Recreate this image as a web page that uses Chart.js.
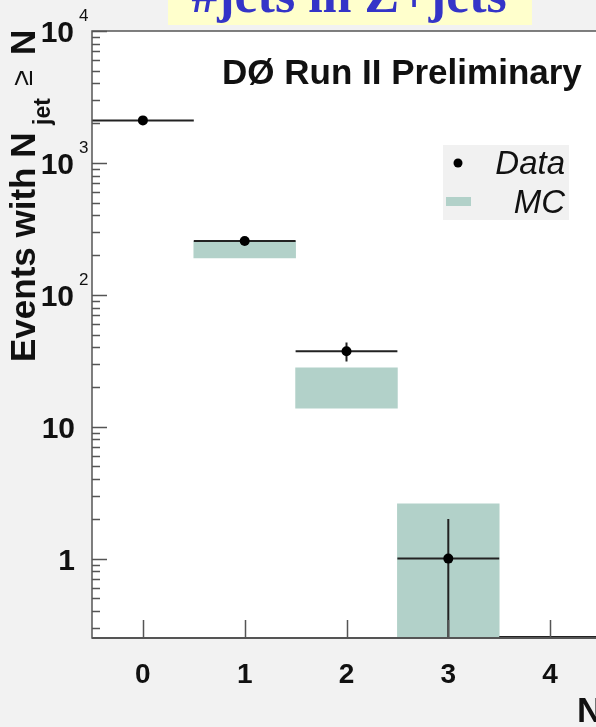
<!doctype html>
<html lang="en">

<head>
    <meta charset="utf-8">
    <meta name="viewport" content="width=device-width, initial-scale=1">
    <script src="https://cdn.jsdelivr.net/npm/chart.js"></script>
    <style>
        html, body {
            margin: 0;
            padding: 0;
            width: 596px;
            height: 727px;
            overflow: hidden;
            background: #f2f2f2;
        }
        #wrap {
            position: relative;
            width: 660px;
            height: 727px;
        }
    </style>
</head>

<body>
    <div id="wrap">
        <canvas id="myChart" width="660" height="727"></canvas>
    </div>
    <script>
        // jet multiplicity bins
        const bins = ['0', '1', '2', '3', '4'];
        // events with Njet >= N (data) and its stat error
        const dataCounts = [2100, 256, 37.3, 1, 0];
        const dataErrors = [46, 16, 6.1, 1, 0];
        // MC band, low and high edge per bin
        const mcLow = [null, 190, 13.8, 0.2, null];
        const mcHigh = [null, 254, 28, 2.6, null];
        // y axis decades and their exponent labels
        const yDecades = [1, 10, 100, 1000, 10000];
        const yExponents = ['', '', '2', '3', '4'];
        const yMin = 0.25;
        const yMax = 10000;

        const font = '"Liberation Sans", Arial, sans-serif';
        const axisColor = '#555';

        const rootStyle = {
            id: 'rootStyle',
            beforeDraw(chart) {
                const ctx = chart.ctx;
                const a = chart.chartArea;
                ctx.save();
                ctx.fillStyle = '#f2f2f2';
                ctx.fillRect(0, 0, chart.width, chart.height);

                // header box
                ctx.fillStyle = '#ffffcc';
                ctx.fillRect(168, 0, 364, 25);
                ctx.fillStyle = '#3434c8';
                ctx.font = 'bold 52px "Liberation Serif", "Times New Roman", serif';
                ctx.textAlign = 'center';
                ctx.textBaseline = 'alphabetic';
                ctx.fillText('#jets in Z+jets', 349, 12);

                ctx.fillStyle = '#ffffff';
                ctx.fillRect(a.left, a.top, a.right - a.left, a.bottom - a.top);
                ctx.restore();
            },
            beforeDatasetDraw(chart, args) {
                if (args.index !== 1) return;
                // error bars under the data markers
                const ctx = chart.ctx;
                const x = chart.scales.x;
                const y = chart.scales.y;
                const half = (x.getPixelForValue(1) - x.getPixelForValue(0)) / 2;
                const ypix = v => v <= yMin ? y.bottom - 1 : Math.min(y.bottom - 1, y.getPixelForValue(v));
                ctx.save();
                ctx.strokeStyle = '#222';
                ctx.lineWidth = 2;
                dataCounts.forEach((v, i) => {
                    const cx = x.getPixelForValue(i);
                    const cy = ypix(v);
                    ctx.beginPath();
                    ctx.moveTo(cx - half, cy);
                    ctx.lineTo(cx + half, cy);
                    if (v > 0) {
                        ctx.moveTo(cx, ypix(v + dataErrors[i]));
                        ctx.lineTo(cx, ypix(v - dataErrors[i]));
                    }
                    ctx.stroke();
                });
                ctx.restore();
            },
            afterDraw(chart) {
                const ctx = chart.ctx;
                const a = chart.chartArea;
                const x = chart.scales.x;
                const y = chart.scales.y;
                ctx.save();

                // frame
                ctx.strokeStyle = axisColor;
                ctx.lineWidth = 1.5;
                ctx.strokeRect(a.left, a.top, a.right - a.left, a.bottom - a.top);
                ctx.lineWidth = 2;
                ctx.beginPath();
                ctx.moveTo(a.left, a.bottom);
                ctx.lineTo(a.right, a.bottom);
                ctx.stroke();

                // y ticks, major and minor
                ctx.lineWidth = 1.5;
                ctx.beginPath();
                for (let e = -1; e <= 4; e++) {
                    for (let k = 1; k <= 9; k++) {
                        const v = k * Math.pow(10, e);
                        if (v < yMin || v > yMax) continue;
                        const py = Math.round(y.getPixelForValue(v)) + 0.5;
                        const len = k === 1 ? 15 : 8;
                        ctx.moveTo(a.left, py);
                        ctx.lineTo(a.left + len, py);
                    }
                }
                // x ticks
                bins.forEach((b, i) => {
                    const px = Math.round(x.getPixelForValue(i)) + 0.5;
                    ctx.moveTo(px, a.bottom);
                    ctx.lineTo(px, a.bottom - 18);
                });
                ctx.stroke();

                // y labels
                ctx.fillStyle = '#111';
                ctx.textBaseline = 'alphabetic';
                yDecades.forEach((v, i) => {
                    const py = y.getPixelForValue(v);
                    const label = v === 1 ? '1' : '10';
                    ctx.font = 'bold 30px ' + font;
                    ctx.textAlign = 'right';
                    ctx.fillText(label, yExponents[i] ? 74 : 75, py + 11);
                    if (yExponents[i]) {
                        ctx.font = '17px ' + font;
                        ctx.textAlign = 'left';
                        ctx.fillText(yExponents[i], 79, py - 10);
                    }
                });

                // x labels
                ctx.font = 'bold 28px ' + font;
                ctx.textAlign = 'center';
                bins.forEach((b, i) => {
                    ctx.fillText(b, x.getPixelForValue(i), 683);
                });

                // x title
                ctx.textAlign = 'left';
                ctx.font = 'bold 35px ' + font;
                ctx.fillText('N', 577, 722);
                const nw = ctx.measureText('N').width;
                ctx.font = 'bold 23px ' + font;
                ctx.fillText('jet', 577 + nw + 2, 730);

                // y title, rotated
                ctx.save();
                ctx.translate(35, 362);
                ctx.rotate(-Math.PI / 2);
                ctx.font = 'bold 35px ' + font;
                ctx.fillText('Events with N', 0, 0);
                ctx.font = 'bold 23px ' + font;
                ctx.fillText('jet', 237, 15);
                ctx.font = '29px ' + font;
                ctx.fillText('\u2265', 276, -3);
                ctx.font = 'bold 35px ' + font;
                ctx.fillText('N', 307, 0);
                ctx.restore();

                // experiment label
                ctx.font = 'bold 35px ' + font;
                ctx.textAlign = 'left';
                ctx.fillText('D\u00d8 Run II Preliminary', 222, 84);

                // legend
                ctx.fillStyle = '#f1f1f1';
                ctx.fillRect(443, 145, 126, 75);
                ctx.fillStyle = '#000';
                ctx.beginPath();
                ctx.arc(458, 163, 4.5, 0, Math.PI * 2);
                ctx.fill();
                ctx.fillStyle = '#b2d1c9';
                ctx.fillRect(446, 197, 25, 9);
                ctx.fillStyle = '#111';
                ctx.font = 'italic 33px ' + font;
                ctx.textAlign = 'right';
                ctx.fillText('Data', 565, 174);
                ctx.fillText('MC', 565, 213);

                ctx.restore();
            }
        };

        const config = {
            type: 'bar',
            data: {
                labels: bins,
                datasets: [{
                    label: 'MC',
                    data: mcLow.map((lo, i) => lo === null ? null : [lo, mcHigh[i]]),
                    backgroundColor: '#b2d1c9',
                    borderWidth: 0,
                    barPercentage: 1,
                    categoryPercentage: 1,
                    order: 2
                },
                {
                    type: 'line',
                    label: 'Data',
                    data: dataCounts.map(v => v > 0 ? v : null),
                    showLine: false,
                    pointRadius: 5,
                    pointBackgroundColor: '#000',
                    pointBorderWidth: 0,
                    order: 1
                }]
            },
            options: {
                responsive: false,
                animation: false,
                devicePixelRatio: 1,
                layout: {
                    padding: { left: 92, top: 31, right: 59, bottom: 89 }
                },
                plugins: {
                    legend: { display: false },
                    tooltip: { enabled: false }
                },
                scales: {
                    x: {
                        type: 'category',
                        offset: true,
                        display: false
                    },
                    y: {
                        type: 'logarithmic',
                        min: yMin,
                        max: yMax,
                        display: false
                    }
                }
            },
            plugins: [rootStyle]
        };

        const myChart = new Chart(document.getElementById('myChart'), config);
    </script>
</body>

</html>
